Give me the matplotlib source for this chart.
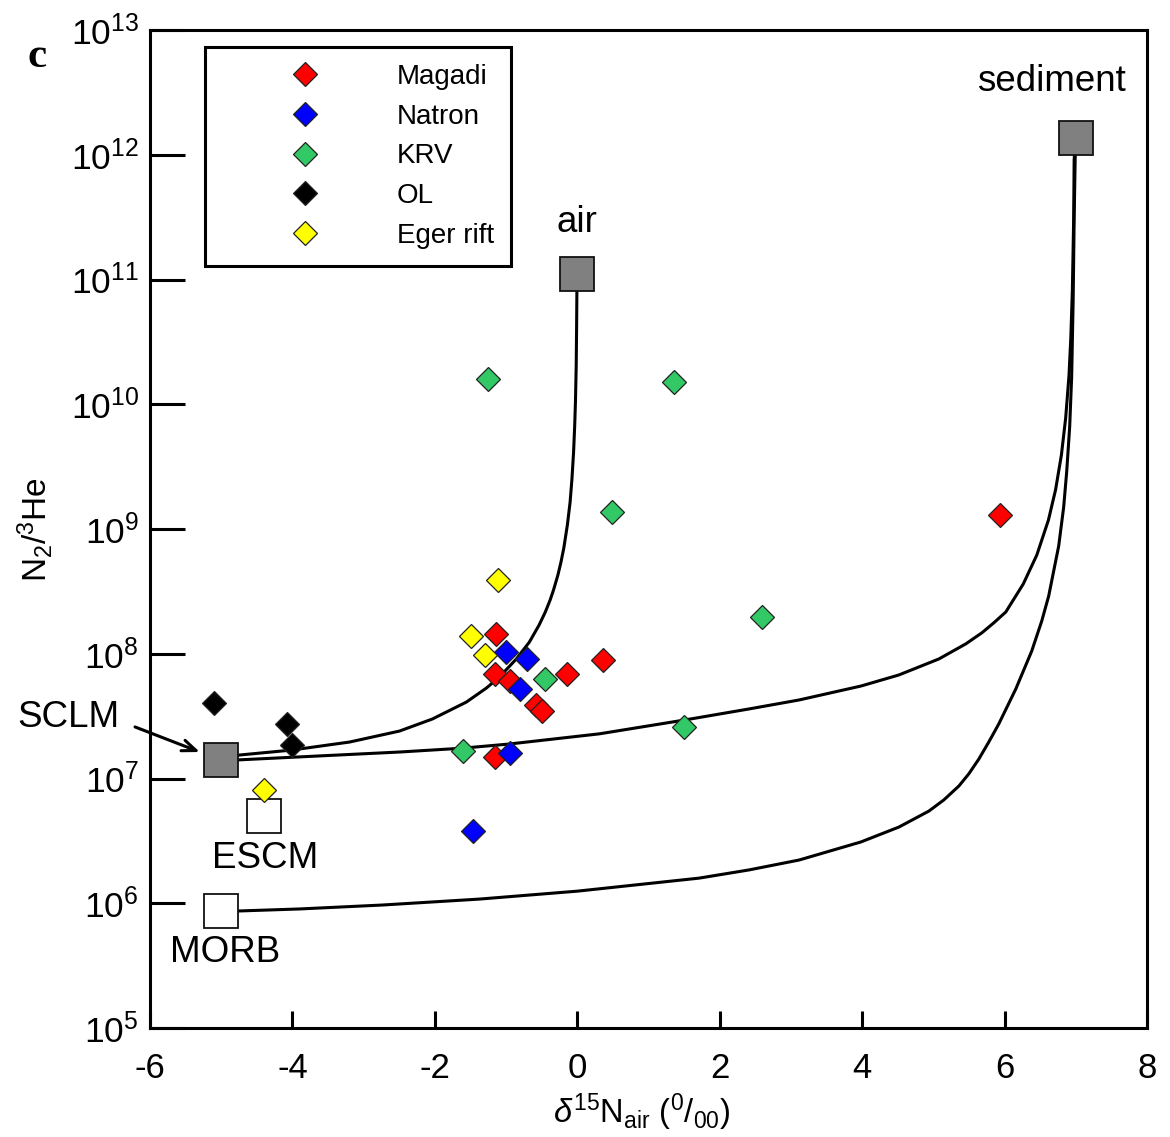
import numpy as np
import matplotlib
matplotlib.use("Agg")
import matplotlib.pyplot as plt
from matplotlib.ticker import FixedLocator, FuncFormatter

plt.rcParams['font.family'] = ['Liberation Sans', 'DejaVu Sans']
plt.rcParams['mathtext.fontset'] = 'custom'
plt.rcParams['mathtext.rm'] = 'Liberation Sans'
plt.rcParams['mathtext.it'] = 'Liberation Sans:italic'
plt.rcParams['mathtext.bf'] = 'Liberation Sans:bold'

# ---- data (delta15N, N2/3He) ----
magadi_x = [-1.14, -1.15, -0.95, -0.58, -0.50, -0.15, 0.36, -1.15, 5.93]
magadi_y = [1.44e8, 6.9e7, 6.0e7, 3.9e7, 3.5e7, 6.9e7, 8.9e7, 1.5e7, 1.3e9]
natron_x = [-1.00, -0.71, -0.80, -0.94, -1.46]
natron_y = [1.04e8, 9.1e7, 5.2e7, 1.6e7, 3.8e6]
krv_x = [-1.26, 1.36, 0.49, 2.60, -0.45, 1.50, -1.61]
krv_y = [1.6e10, 1.5e10, 1.37e9, 1.96e8, 6.3e7, 2.57e7, 1.66e7]
ol_x = [-5.10, -4.08, -4.00]
ol_y = [4.0e7, 2.75e7, 1.86e7]
eger_x = [-1.11, -1.49, -1.29, -4.40]
eger_y = [3.9e8, 1.38e8, 9.8e7, 8.1e6]

groups = ['Magadi', 'Natron', 'KRV', 'OL', 'Eger rift']
colors = ['#FF0000', '#0000FF', '#33C866', '#000000', '#FFFF00']
xs = [magadi_x, natron_x, krv_x, ol_x, eger_x]
ys = [magadi_y, natron_y, krv_y, ol_y, eger_y]

# end members
em_names = ['SCLM', 'ESCM', 'MORB', 'air', 'sediment']
em_x = [-5.0, -4.4, -5.0, 0.0, 7.0]
em_y = [1.4e7, 5.0e6, 8.7e5, 1.1e11, 1.36e12]
em_fill = ['#808080', '#FFFFFF', '#FFFFFF', '#808080', '#808080']

# mixing curves
sclm_air_x = [-5.0, -4.755, -4.011, -3.198, -2.497, -2.034, -1.557, -1.276, -1.094,
              -0.856, -0.673, -0.536, -0.449, -0.381, -0.334, -0.272, -0.229, -0.189,
              -0.139, -0.101, -0.076, -0.052, -0.036, -0.025, -0.015, -0.0098, -0.0056, 0.0]
sclm_air_y = [1.5e7, 1.54e7, 1.69e7, 1.96e7, 2.40e7, 3.00e7, 4.10e7, 5.31e7, 6.51e7,
              9.08e7, 1.24e8, 1.70e8, 2.16e8, 2.70e8, 3.24e8, 4.28e8, 5.43e8, 7.05e8,
              1.08e9, 1.64e9, 2.47e9, 4.14e9, 6.82e9, 1.08e10, 2.07e10, 3.94e10, 7.94e10, 1.1e11]
sclm_sed_x = [-5.0, -4.755, -3.899, -2.497, -1.613, -0.954, 0.309, 1.501, 2.412, 3.114,
              3.983, 4.516, 5.077, 5.456, 5.680, 5.849, 6.017, 6.262, 6.453, 6.616, 6.716,
              6.798, 6.858, 6.905, 6.930, 6.952, 6.970, 6.977, 7.0]
sclm_sed_y = [1.41e7, 1.41e7, 1.49e7, 1.63e7, 1.75e7, 1.89e7, 2.28e7, 2.94e7, 3.61e7, 4.26e7,
              5.51e7, 6.76e7, 9.08e7, 1.20e8, 1.47e8, 1.77e8, 2.16e8, 3.62e8, 6.19e8, 1.18e9,
              2.06e9, 3.92e9, 7.76e9, 1.71e10, 3.40e10, 8.24e10, 3.0e11, 9.1e11, 1.36e12]
morb_sed_x = [-5.0, -4.755, -3.899, -2.735, -1.374, 0.0, 1.711, 2.412, 3.114, 3.983,
              4.516, 4.937, 5.147, 5.358, 5.498, 5.638, 5.778, 5.919, 6.157, 6.381,
              6.522, 6.620, 6.760, 6.830, 6.872, 6.914, 6.942, 6.963, 6.977, 6.991, 7.0]
morb_sed_y = [8.67e5, 8.67e5, 9.0e5, 9.68e5, 1.08e6, 1.25e6, 1.59e6, 1.85e6, 2.22e6, 3.10e6,
              4.08e6, 5.48e6, 6.73e6, 8.70e6, 1.09e7, 1.43e7, 1.96e7, 2.74e7, 5.21e7, 1.05e8,
              1.83e8, 2.91e8, 7.31e8, 1.50e9, 2.86e9, 6.57e9, 1.65e10, 6.85e10, 3.0e11, 9.1e11,
              1.36e12]
curves = [(sclm_air_x, sclm_air_y), (sclm_sed_x, sclm_sed_y), (morb_sed_x, morb_sed_y)]

fig = plt.figure(figsize=(11.70, 11.37), dpi=100)
ax = fig.add_axes([150/1170, 1-1028/1137, 997/1170, 998/1137])
ax.set_xlim(-6, 8)
ax.set_yscale('log')
ax.set_ylim(1e5, 1e13)

for cx, cy in curves:
    ax.plot(cx, cy, color='black', lw=2.2, zorder=2, solid_joinstyle='round')

for gx, gy, c, g in zip(xs, ys, colors, groups):
    ax.plot(gx, gy, linestyle='none', marker='D', ms=12.5, mfc=c,
            mec='#222222', mew=0.9, label=g, zorder=4)

for x, y, fc in zip(em_x, em_y, em_fill):
    ax.plot([x], [y], linestyle='none', marker='s', ms=25, mfc=fc,
            mec='#111111', mew=1.3, zorder=3)

# labels of end members
fs_lab = 26.5
ax.text(0.0, 2.84e11, 'air', fontsize=fs_lab, ha='center', va='center')
ax.text(6.66, 3.83e12, 'sediment', fontsize=fs_lab, ha='center', va='center')
ax.text(-4.39, 2.3e6, 'ESCM', fontsize=fs_lab, ha='center', va='center')
ax.text(-4.95, 4.06e5, 'MORB', fontsize=fs_lab, ha='center', va='center')
ax.annotate('', xy=(-5.30, 1.63e7), xytext=(-6.21, 2.59e7),
            arrowprops=dict(arrowstyle='->,head_length=1.0,head_width=0.4',
                            lw=2.2, color='black', shrinkA=0, shrinkB=0),
            annotation_clip=False)
ax.text(-7.15, 3.1e7, 'SCLM', fontsize=fs_lab, ha='center', va='center', clip_on=False)

# axes style
for s in ax.spines.values():
    s.set_linewidth(2.2)
ax.xaxis.set_major_locator(FixedLocator([-6, -4, -2, 0, 2, 4, 6, 8]))
ax.yaxis.set_major_locator(FixedLocator([10.0**k for k in range(5, 14)]))
ax.yaxis.set_minor_locator(FixedLocator([]))
ax.yaxis.set_major_formatter(FuncFormatter(lambda v, p: r'$\mathregular{10^{%d}}$' % round(np.log10(v))))
ax.xaxis.set_major_formatter(FuncFormatter(lambda v, p: '%d' % v))
ax.tick_params(axis='y', direction='in', length=25, width=2.2, labelsize=25.5, pad=8)
ax.tick_params(axis='x', direction='in', length=12, width=2.2, labelsize=25, pad=17)
ax.tick_params(which='both', top=False, right=False)

leg = ax.legend(loc='upper left', bbox_to_anchor=(0.055, 0.983), fontsize=20,
                frameon=True, fancybox=False, edgecolor='black', framealpha=1,
                handlelength=6.0, handletextpad=0.3, labelspacing=0.49,
                borderpad=0.62, borderaxespad=0, numpoints=1)
leg.get_frame().set_linewidth(2.2)

fig.text(642/1170, 1-1112/1137, r'$\delta^{15}$N$_{\mathregular{air}}$ ($^{0}$/$_{00}$)',
         fontsize=23.5, ha='center', va='center')
fig.text(35/1170, 1-530/1137, r'N$_2$/$^3$He', fontsize=24, ha='center', va='center',
         rotation=90)
fig.text(37/1170, 1-57/1137, 'c', fontsize=31, fontweight='bold',
         family=['Liberation Serif', 'DejaVu Serif'], ha='center', va='center')

fig.savefig('out.png', dpi=100)
